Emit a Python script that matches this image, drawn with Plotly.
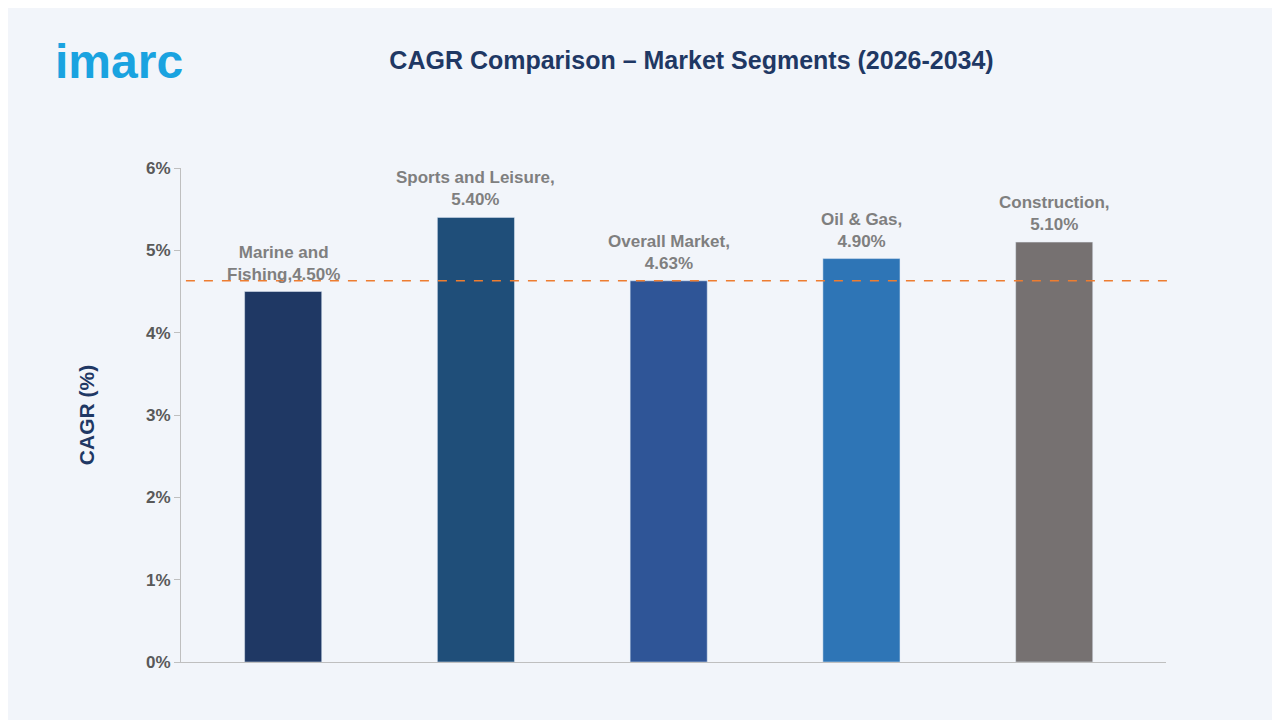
import plotly.graph_objects as go

categories = ["Marine and Fishing", "Sports and Leisure", "Overall Market", "Oil & Gas", "Construction"]
values = [4.50, 5.40, 4.63, 4.90, 5.10]
labels = ["Marine and<br>Fishing,4.50%", "Sports and Leisure,<br>5.40%", "Overall Market,<br>4.63%", "Oil & Gas,<br>4.90%", "Construction,<br>5.10%"]
colors = ["#1F3864", "#1F4E79", "#2F5597", "#2E75B6", "#767171"]
overall = 4.63
tick_vals = [0, 1, 2, 3, 4, 5, 6]
tick_text = ["<b>0%</b>", "<b>1%</b>", "<b>2%</b>", "<b>3%</b>", "<b>4%</b>", "<b>5%</b>", "<b>6%</b>"]

fig = go.Figure(go.Bar(x=categories, y=values, marker_color=colors, width=0.4))
for c, v, t in zip(categories, values, labels):
    fig.add_annotation(x=c, y=v, text="<b>" + t + "</b>", showarrow=False, yanchor="bottom", yshift=6,
                       font=dict(family="Liberation Sans, sans-serif", size=17, color="#7F7F7F"))
fig.add_shape(type="line", xref="paper", yref="y", x0=0.005, x1=1.01, y0=overall, y1=overall,
              line=dict(color="#ED7D31", width=1.5, dash="dash"))
fig.update_layout(
    width=1280, height=720, paper_bgcolor="#F2F5FA", plot_bgcolor="#F2F5FA",
    margin=dict(l=173, r=122, t=160, b=66), showlegend=False,
    title=dict(text="<b>CAGR Comparison – Market Segments (2026-2034)</b>", x=0.534, xanchor="center", y=0.94,
               font=dict(family="Liberation Sans, sans-serif", size=25, color="#1F3864")),
    yaxis=dict(range=[0, 6], tickvals=tick_vals, ticktext=tick_text, showgrid=False, zeroline=False,
               showline=True, linecolor="#BFBFBF", ticks="outside", ticklen=6, tickcolor="#BFBFBF",
               tickfont=dict(family="Liberation Sans, sans-serif", size=17, color="#595959"),
               title=dict(text="<b>CAGR (%)</b>", standoff=45,
                          font=dict(family="Liberation Sans, sans-serif", size=21, color="#1F3864"))),
    xaxis=dict(range=[-0.53, 4.58], showticklabels=False, showline=True, linecolor="#BFBFBF", showgrid=False),
)
fig.add_annotation(xref="paper", yref="paper", x=-0.13, y=1.215, xanchor="left", yanchor="middle",
                   text="<b>imarc</b>", showarrow=False,
                   font=dict(family="Liberation Sans, sans-serif", size=48, color="#1AA3E0"))
fig.write_html("out.html")
